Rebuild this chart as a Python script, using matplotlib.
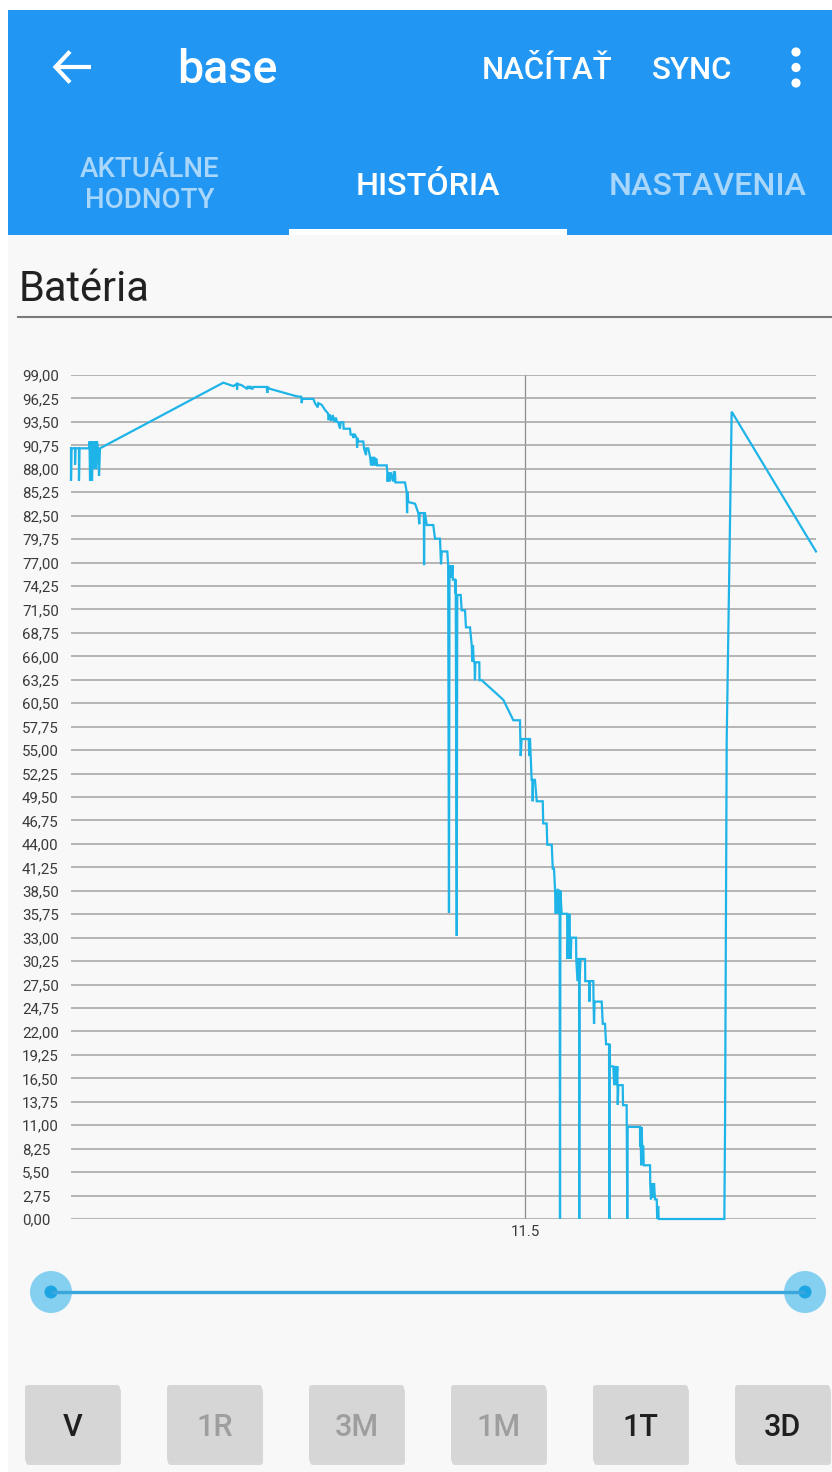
import matplotlib
matplotlib.use('Agg')
import matplotlib.pyplot as plt
from matplotlib.patches import Rectangle, FancyBboxPatch, Circle

W, H = 832, 1472
plt.rcParams['font.family'] = ['Roboto', 'DejaVu Sans']

# ---- data (hours since start of 3-day window, battery %) ----
time_h = [
    0.00, 0.00, 0.05, 0.39, 0.39, 0.43, 0.77, 0.77, 0.82, 1.74, 1.79, 1.84, 1.93, 2.03, 2.13, 2.22, 2.32, 2.42, 2.51, 2.61, 2.71, 2.80,
    14.72, 15.69, 16.01, 16.05, 16.10, 16.50, 16.98, 17.10, 17.20, 17.35, 17.45, 17.56, 17.62, 18.91, 18.97, 19.04, 19.16, 21.81,
    22.25, 22.30, 22.35, 23.42, 23.58, 23.85, 23.90, 24.23, 24.55, 24.84,
    24.90, 25.00, 25.15, 25.30, 25.45, 25.60, 25.70, 25.83, 26.00, 26.05, 26.32, 26.35, 26.96, 27.03,
    27.28, 27.30, 27.33, 27.45, 27.61, 27.65, 27.70, 27.77, 28.25, 28.32, 28.51, 28.55, 28.73,
    28.90, 29.00, 29.10, 29.20, 29.30, 29.40, 29.50, 29.60, 29.70, 30.51,
    30.57, 30.60, 30.65, 30.83, 30.88, 31.15, 31.20, 31.31, 31.35, 32.28,
    32.44, 32.48, 32.52, 32.60, 33.25, 33.57, 33.66, 33.70, 34.10, 34.12, 34.15, 34.21, 34.38, 35.01, 35.18, 35.66,
    35.76, 35.83, 36.37, 36.45, 36.53, 36.58, 36.65, 36.72, 36.80, 36.87, 36.90, 37.11, 37.13, 37.18, 37.28, 37.33,
    37.43, 37.66, 37.76, 38.08, 38.17, 38.56, 38.73, 38.78, 38.85, 38.92, 39.00, 39.04, 39.08, 39.46, 39.48, 39.69,
    41.78, 42.75, 43.39, 43.46, 43.55, 44.24, 44.28, 44.32, 44.36, 44.52, 44.60, 44.62, 44.65, 44.84, 45.01, 45.16,
    45.59, 45.64, 45.97, 46.03, 46.46, 46.56, 46.68, 46.78,
    46.85, 46.90, 47.00, 47.05, 47.22, 47.26, 47.30, 47.42, 47.95, 47.97, 48.05, 48.10, 48.16, 48.20, 48.30, 48.35,
    48.39, 48.81, 48.83,
    48.95, 49.05, 49.10, 49.12, 49.15, 49.25, 49.68, 49.70, 50.00, 50.08, 50.10, 50.14, 50.48, 50.50, 50.55, 50.60,
    50.64, 51.29, 51.39, 51.61, 51.71,
    52.00, 52.03, 52.06, 52.10, 52.41, 52.50, 52.60, 52.70, 52.80, 52.84, 52.90, 53.32, 53.35, 53.70, 53.76, 53.80,
    54.99, 55.00, 55.05, 55.10, 55.15, 55.20, 55.31, 55.35, 55.64, 55.66, 55.96, 55.98, 56.05, 56.15, 56.25, 56.35,
    56.44, 56.61, 56.65, 56.75, 56.80,
    63.14, 63.21, 63.37, 63.85, 72.00,
]
battery_pct = [
    90.4, 86.6, 90.4, 90.4, 88.5, 90.4, 90.4, 86.6, 90.4, 90.4, 91.2, 86.6, 91.2, 86.6, 91.2, 88.0, 91.2, 88.0, 91.2, 90.4, 87.2, 90.4,
    98.1, 97.7, 97.95, 97.3, 97.95, 97.8, 97.4, 97.7, 97.4, 97.7, 97.4, 97.4, 97.6, 97.6, 96.9, 97.6, 97.4, 96.5,
    96.45, 95.7, 96.2, 96.2, 95.7, 95.2, 95.7, 95.5, 94.9, 94.5,
    93.7, 94.4, 93.6, 94.3, 93.5, 94.0, 93.5, 93.45, 92.7, 93.45, 93.45, 92.7, 92.7, 92.0,
    92.0, 91.6, 92.0, 92.0, 91.6, 90.5, 91.6, 91.2, 91.2, 90.4, 89.6, 90.4, 90.4,
    89.4, 88.4, 89.4, 88.4, 89.4, 88.4, 89.2, 88.4, 88.4, 88.4,
    87.6, 86.5, 87.6, 86.5, 87.6, 86.5, 87.6, 87.6, 86.4, 86.4,
    85.3, 82.8, 85.3, 84.1, 83.9, 82.8, 81.5, 82.8, 82.8, 76.7, 82.8, 82.8, 81.4, 81.4, 79.8, 79.8,
    76.8, 78.3, 78.3, 76.7, 35.9, 76.7, 75.2, 76.7, 75.3, 76.7, 75.0, 75.0, 73.4, 75.0, 33.2, 73.2,
    73.2, 73.2, 71.4, 71.4, 69.4, 69.4, 67.3, 65.4, 67.3, 65.4, 65.3, 63.2, 65.3, 65.3, 63.2, 63.2,
    60.9, 58.5, 58.5, 54.3, 56.3, 56.3, 54.3, 56.3, 56.3, 51.5, 51.5, 49.0, 51.5, 51.5, 49.0, 49.0,
    49.0, 46.4, 46.4, 43.9, 43.9, 41.1, 41.1, 38.6,
    35.8, 38.6, 35.8, 38.6, 38.5, 0.0, 38.5, 35.8, 35.8, 30.5, 33.0, 30.5, 35.8, 33.0, 30.5, 33.0,
    33.0, 33.0, 30.5,
    27.9, 30.5, 30.5, 0.0, 27.9, 30.5, 30.5, 27.9, 27.9, 27.9, 25.5, 27.9, 27.9, 25.5, 22.9, 25.5,
    25.5, 25.5, 22.9, 22.9, 20.5,
    20.5, 0.0, 20.5, 17.9, 17.9, 15.7, 17.9, 15.7, 17.9, 13.4, 15.7, 15.7, 13.35, 13.35, 0.0, 10.8,
    10.8, 8.5, 10.8, 6.3, 10.8, 8.5, 8.5, 6.3, 6.3, 6.3, 6.3, 4.2, 2.3, 4.2, 2.5, 4.2,
    2.3, 2.3, 0.0, 1.5, 0.0,
    0.0, 10.8, 56.2, 94.7, 78.3,
]
y_ticks = [0.0, 2.75, 5.5, 8.25, 11.0, 13.75, 16.5, 19.25, 22.0, 24.75, 27.5, 30.25, 33.0,
           35.75, 38.5, 41.25, 44.0, 46.75, 49.5, 52.25, 55.0, 57.75, 60.5, 63.25, 66.0,
           68.75, 71.5, 74.25, 77.0, 79.75, 82.5, 85.25, 88.0, 90.75, 93.5, 96.25, 99.0]
y_tick_labels = ['0,00', '2,75', '5,50', '8,25', '11,00', '13,75', '16,50', '19,25', '22,00',
                 '24,75', '27,50', '30,25', '33,00', '35,75', '38,50', '41,25', '44,00', '46,75',
                 '49,50', '52,25', '55,00', '57,75', '60,50', '63,25', '66,00', '68,75', '71,50',
                 '74,25', '77,00', '79,75', '82,50', '85,25', '88,00', '90,75', '93,50', '96,25',
                 '99,00']
x_ticks = [43.88]
x_tick_labels = ['11.5']
title_text = 'base'
actions = ['NAČÍTAŤ', 'SYNC']
tabs = ['AKTUÁLNE\nHODNOTY', 'HISTÓRIA', 'NASTAVENIA']
section_title = 'Batéria'
range_buttons = ['V', '1R', '3M', '1M', '1T', '3D']
button_enabled = [True, False, False, False, True, True]

# ---- figure & background layer (pixel coordinates) ----
fig = plt.figure(figsize=(W / 100, H / 100), dpi=100)
fig.patch.set_facecolor('white')
bg = fig.add_axes([0, 0, 1, 1])
bg.set_xlim(0, W)
bg.set_ylim(H, 0)
bg.axis('off')

BLUE = '#2196F3'
bg.add_patch(Rectangle((8, 235), W - 8, H - 235, color='#F8F8F8', lw=0))
bg.add_patch(Rectangle((8, 10), W - 8, 225, color=BLUE, lw=0))
bg.add_patch(Rectangle((289, 229), 278, 6, color='white', lw=0))

# back arrow
bg.plot([55, 91], [67, 67], color='white', lw=3.0, solid_capstyle='butt')
bg.plot([70, 55.5, 70], [51.5, 67, 82.5], color='white', lw=3.0,
        solid_joinstyle='miter', solid_capstyle='butt')
# title + actions
bg.text(177, 83, title_text, color='white', fontsize=33.5, fontweight='medium', va='baseline')
bg.text(482, 79, actions[0], color='white', fontsize=22.5, fontweight='medium', va='baseline')
bg.text(652, 79, actions[1], color='white', fontsize=22.5, fontweight='medium', va='baseline')
for cy in (52, 67.5, 83):
    bg.add_patch(Circle((796, cy), 4.6, color='white', lw=0))

# tabs
TAB_DIM = '#A9D6FB'
tab_lines = tabs[0].split('\n')
bg.text(149.5, 177, tab_lines[0], color=TAB_DIM, fontsize=20, fontweight='medium',
        ha='center', va='baseline')
bg.text(149.5, 208, tab_lines[1], color=TAB_DIM, fontsize=20, fontweight='medium',
        ha='center', va='baseline')
bg.text(428, 195, tabs[1], color='white', fontsize=23.2, fontweight='medium',
        ha='center', va='baseline')
bg.text(708, 195, tabs[2], color=TAB_DIM, fontsize=23.2, fontweight='medium',
        ha='center', va='baseline')

# section title + divider
bg.text(19, 301, section_title, color='#212121', fontsize=30, va='baseline')
bg.plot([18, W], [317, 317], color='#7A7A7A', lw=1.5)

# slider
bg.plot([51, 805], [1292, 1292], color='#3AA6DC', lw=2.4, solid_capstyle='butt')
for cx in (51, 805):
    bg.add_patch(Circle((cx, 1292), 21, color='#85CFF0', lw=0))
    bg.add_patch(Circle((cx, 1292), 6.5, color='#1CA5E3', lw=0))

# range buttons
for i, (lab, en) in enumerate(zip(range_buttons, button_enabled)):
    x0 = 25 + i * 142
    bg.add_patch(FancyBboxPatch((x0 + 1, 1388), 95, 77, boxstyle='round,pad=0,rounding_size=3',
                                color='#C4C4C4', lw=0, alpha=0.6))
    bg.add_patch(FancyBboxPatch((x0, 1385), 95, 77, boxstyle='round,pad=0,rounding_size=3',
                                color='#D6D6D6', lw=0))
    bg.text(x0 + 47.5, 1436.5, lab, color='#1F1F1F' if en else '#9E9E9E', fontsize=22,
            fontweight='medium', ha='center', va='baseline')

# ---- chart axes ----
L, R, T, B = 71, 816, 375, 1219
ax = fig.add_axes([L / W, 1 - B / H, (R - L) / W, (B - T) / H])
ax.set_facecolor('none')
ax.set_xlim(0, 72)
ax.set_ylim(0, 99)
for s in ax.spines.values():
    s.set_visible(False)
ax.set_yticks(y_ticks)
ax.set_yticklabels(y_tick_labels)
ax.set_xticks(x_ticks)
ax.set_xticklabels(x_tick_labels)
ax.tick_params(axis='y', length=0, pad=49 * 0.72, labelsize=10.8, labelcolor='#3A3A3A')
ax.tick_params(axis='x', length=0, pad=4, labelsize=10.8, labelcolor='#3A3A3A')
for lab in ax.get_yticklabels():
    lab.set_horizontalalignment('left')
ax.grid(axis='y', color='#A3A3A3', lw=1.1)
ax.grid(axis='x', color='#8C8C8C', lw=0.9)
ax.set_axisbelow(True)
ax.plot(time_h, battery_pct, color='#1EB4E8', lw=1.6, clip_on=False,
        solid_joinstyle='miter')

fig.savefig('out.png', dpi=100, facecolor=fig.get_facecolor())
